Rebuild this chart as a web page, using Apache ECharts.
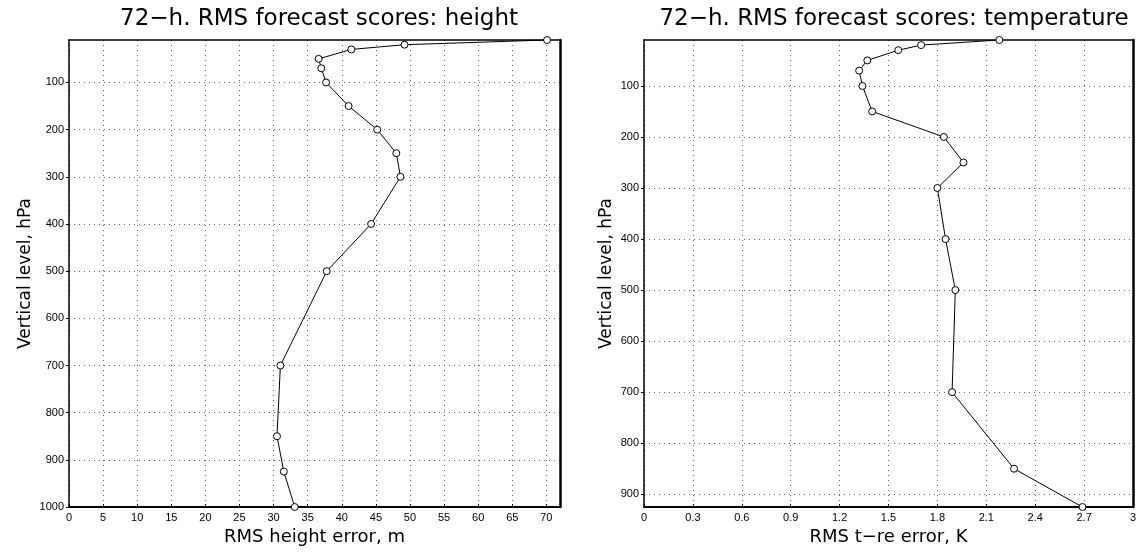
<!DOCTYPE html>
<html>
<head>
<meta charset="utf-8">
<script src="https://cdn.jsdelivr.net/npm/echarts@6/dist/echarts.min.js"></script>
<style>
  html, body { margin: 0; padding: 0; background: #fff; }
  #main { width: 1143px; height: 556px; }
</style>
</head>
<body>
<div id="main"></div>
<script>
// pressure levels, hPa
const levelsH = [10, 20, 30, 50, 70, 100, 150, 200, 250, 300, 400, 500, 700, 850, 925, 1000]
const heightErr = [70.1, 49.2, 41.4, 36.6, 37.0, 37.7, 41.0, 45.2, 48.0, 48.6, 44.3, 37.8, 31.0, 30.5, 31.5, 33.1]

const levelsT = [10, 20, 30, 50, 70, 100, 150, 200, 250, 300, 400, 500, 700, 850, 925]
const tempErr = [2.18, 1.70, 1.56, 1.37, 1.32, 1.34, 1.40, 1.84, 1.96, 1.80, 1.85, 1.91, 1.89, 2.27, 2.69]

const heightTicks = [100, 200, 300, 400, 500, 600, 700, 800, 900, 1000]
const tempTicks = [100, 200, 300, 400, 500, 600, 700, 800, 900]

const FONT = 'Liberation Sans'
const dotted = { color: '#666', width: 1, type: [1, 4] }

function mainX(grid, min, max, interval, name) {
  return {
    gridIndex: grid, type: 'value', min: min, max: max, interval: interval,
    name: name, nameLocation: 'middle', nameGap: 20,
    nameTextStyle: { fontFamily: 'DejaVu Sans', fontSize: 18, color: '#000' },
    axisLine: { show: true, lineStyle: { color: '#000', width: 2 } },
    axisTick: { show: true, length: 3, inside: true, lineStyle: { color: '#000' } },
    axisLabel: { fontFamily: FONT, fontSize: 11, color: '#000', margin: 5,
      showMaxLabel: Math.abs(max / interval - Math.round(max / interval)) < 1e-6 },
    splitLine: { show: true, lineStyle: dotted }
  }
}

function mainY(grid, min, max, ticks, gap) {
  return {
    gridIndex: grid, type: 'value', inverse: true, min: min, max: max,
    name: 'Vertical level, hPa', nameLocation: 'middle', nameGap: gap,
    nameTextStyle: { fontFamily: 'DejaVu Sans', fontSize: 17, color: '#000' },
    axisLine: { show: true, lineStyle: { color: '#000', width: 1.5 } },
    axisTick: { show: true, length: 3, customValues: ticks, lineStyle: { color: '#000' } },
    axisLabel: { fontFamily: FONT, fontSize: 11, color: '#000', margin: 5, customValues: ticks,
      formatter: v => String(v) },
    splitLine: { show: true, lineStyle: dotted }
  }
}

function frameX(grid, min, max, width) {
  return {
    gridIndex: grid, type: 'value', position: 'top', min: min, max: max,
    axisLine: { show: true, onZero: false, lineStyle: { color: '#000', width: width } },
    axisTick: { show: false }, axisLabel: { show: false }, splitLine: { show: false }
  }
}

function frameY(grid, min, max, width) {
  return {
    gridIndex: grid, type: 'value', position: 'right', inverse: true, min: min, max: max,
    axisLine: { show: true, onZero: false, lineStyle: { color: '#000', width: width } },
    axisTick: { show: false }, axisLabel: { show: false }, splitLine: { show: false }
  }
}

function profile(xs, ys, xi, yi) {
  return {
    type: 'line', xAxisIndex: xi, yAxisIndex: yi,
    data: ys.map((p, i) => [xs[i], p]),
    symbol: 'circle', symbolSize: 7, clip: false,
    lineStyle: { color: '#000', width: 1 },
    itemStyle: { color: '#fff', borderColor: '#000', borderWidth: 1 },
    emphasis: { disabled: true },
    animation: false
  }
}

const titleStyle = { fontFamily: 'DejaVu Sans', fontWeight: 'normal', fontSize: 23, color: '#000' }

const chart = echarts.init(document.getElementById('main'), null, { renderer: 'canvas' })
chart.setOption({
  backgroundColor: '#fff',
  animation: false,
  title: [
    { text: '72\u2212h. RMS forecast scores: height', left: 314, top: 3, textAlign: 'center', textStyle: titleStyle },
    { text: '72\u2212h. RMS forecast scores: temperature', left: 889, top: 3, textAlign: 'center', textStyle: titleStyle }
  ],
  grid: [
    { left: 69, top: 40, width: 491, height: 467, outerBoundsMode: 'none' },
    { left: 644, top: 40, width: 489, height: 467, outerBoundsMode: 'none' }
  ],
  xAxis: [
    mainX(0, 0, 72, 5, 'RMS height error, m'),
    mainX(1, 0, 3, 0.3, 'RMS t\u2212re error, K'),
    frameX(0, 0, 72, 1.5),
    frameX(1, 0, 3, 1.5)
  ],
  yAxis: [
    mainY(0, 10, 1000, heightTicks, 35),
    mainY(1, 10, 925, tempTicks, 29),
    frameY(0, 10, 1000, 2.5),
    frameY(1, 10, 925, 2.5)
  ],
  series: [
    profile(heightErr, levelsH, 0, 0),
    profile(tempErr, levelsT, 1, 1)
  ]
})
</script>
</body>
</html>
